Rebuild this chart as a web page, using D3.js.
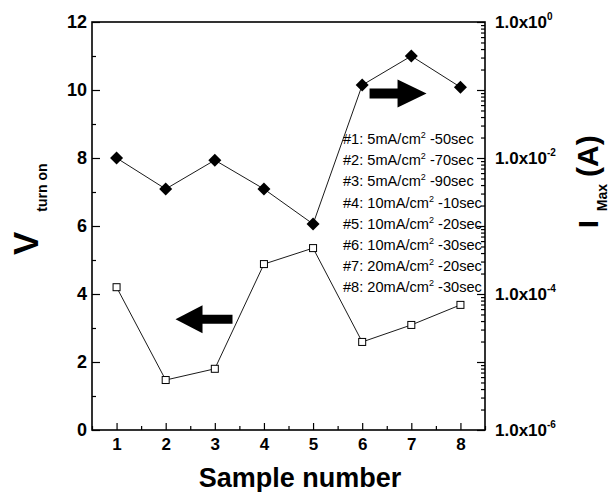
<!DOCTYPE html>
<html>
<head>
<meta charset="utf-8">
<script src="https://cdn.jsdelivr.net/npm/d3@7"></script>
<style>
  body { margin: 0; background: #fff; }
  text { font-family: "Liberation Sans", Arial, sans-serif; fill: #000; }
  .tick line { stroke: #000; stroke-width: 1.2; }
  .domain { display: none; }
</style>
</head>
<body>
<svg id="chart" width="616" height="492"></svg>
<script>
// ----------

const SAMPLES = [1, 2, 3, 4, 5, 6, 7, 8];
const V_TURN_ON = [4.2, 1.47, 1.8, 4.88, 5.35, 2.59, 3.09, 3.68];
const I_MAX = [1.0e-2, 3.5e-3, 9.3e-3, 3.5e-3, 1.07e-3, 0.118, 0.316, 0.11];

const CURRENT_DENSITY = ["5", "5", "5", "10", "10", "10", "20", "20"];
const ETCH_TIME = ["50", "70", "90", "10", "20", "30", "20", "30"];

const LEFT_TICKS = [0, 2, 4, 6, 8, 10, 12];
const LEFT_MINOR = [1, 3, 5, 7, 9, 11];
const X_MINOR = [0.5, 1.5, 2.5, 3.5, 4.5, 5.5, 6.5, 7.5, 8.5];
const RIGHT_EXPONENTS = [0, -2, -4, -6];

// ----------

const svg = d3.select("#chart");
const plotLeft = 92, plotRight = 485, plotTop = 22, plotBottom = 430;

const x = d3.scaleLinear().domain([0.5, 8.5]).range([plotLeft, plotRight]);
const yV = d3.scaleLinear().domain([0, 12]).range([plotBottom, plotTop]);
const yI = d3.scaleLog().domain([1e-6, 1]).range([plotBottom, plotTop]);

// x axis
svg.append("g")
  .attr("transform", `translate(0,${plotBottom})`)
  .call(d3.axisBottom(x).tickValues(SAMPLES).tickSize(-7).tickSizeOuter(0).tickPadding(8))
  .call(g => g.selectAll("text").attr("font-size", 17).attr("font-weight", "bold"));
svg.append("g")
  .attr("transform", `translate(0,${plotBottom})`)
  .call(d3.axisBottom(x).tickValues(X_MINOR).tickSize(-4).tickSizeOuter(0).tickFormat(""));

// left axis
svg.append("g")
  .attr("transform", `translate(${plotLeft},0)`)
  .call(d3.axisLeft(yV).tickValues(LEFT_TICKS).tickSize(-8).tickSizeOuter(0).tickPadding(5))
  .call(g => g.selectAll("text").attr("font-size", 18).attr("font-weight", "bold"));
svg.append("g")
  .attr("transform", `translate(${plotLeft},0)`)
  .call(d3.axisLeft(yV).tickValues(LEFT_MINOR).tickSize(-4).tickSizeOuter(0).tickFormat(""));

// right axis (log)
let decades = d3.range(-6, 1).map(e => Math.pow(10, e));
let minorLog = [];
decades.slice(0, -1).forEach(d => { for (let k = 2; k < 10; k++) minorLog.push(d * k); });

svg.append("g")
  .attr("transform", `translate(${plotRight},0)`)
  .call(d3.axisRight(yI).tickValues(decades).tickSize(-8).tickSizeOuter(0).tickFormat(""));
svg.append("g")
  .attr("transform", `translate(${plotRight},0)`)
  .call(d3.axisRight(yI).tickValues(minorLog).tickSize(-4).tickSizeOuter(0).tickFormat(""));

let rightLabels = svg.append("g").selectAll("text")
  .data(RIGHT_EXPONENTS)
  .enter()
  .append("text")
  .attr("x", plotRight + 10)
  .attr("y", d => yI(Math.pow(10, d)) + 6)
  .attr("font-size", 17)
  .attr("font-weight", "bold");
rightLabels.append("tspan").text("1.0x10");
rightLabels.append("tspan").attr("dy", -8).attr("font-size", 10).text(d => d);

// frame
svg.append("rect")
  .attr("x", plotLeft).attr("y", plotTop)
  .attr("width", plotRight - plotLeft).attr("height", plotBottom - plotTop)
  .attr("fill", "none").attr("stroke", "#000").attr("stroke-width", 1.6);

// lines
let lineV = d3.line().x((d, i) => x(SAMPLES[i])).y(d => yV(d));
let lineI = d3.line().x((d, i) => x(SAMPLES[i])).y(d => yI(d));

svg.append("path").attr("d", lineV(V_TURN_ON)).attr("fill", "none").attr("stroke", "#000").attr("stroke-width", 0.9);
svg.append("path").attr("d", lineI(I_MAX)).attr("fill", "none").attr("stroke", "#000").attr("stroke-width", 0.9);

// markers
svg.selectAll(".sq")
  .data(V_TURN_ON)
  .enter()
  .append("rect")
  .attr("class", "sq")
  .attr("x", (d, i) => x(SAMPLES[i]) - 3.5)
  .attr("y", d => yV(d) - 3.5)
  .attr("width", 7).attr("height", 7)
  .attr("fill", "#fff").attr("stroke", "#000").attr("stroke-width", 1);

svg.selectAll(".dia")
  .data(I_MAX)
  .enter()
  .append("path")
  .attr("class", "dia")
  .attr("transform", (d, i) => `translate(${x(SAMPLES[i])},${yI(d)})`)
  .attr("d", "M0,-6.5L6.5,0L0,6.5L-6.5,0Z")
  .attr("fill", "#000");

// arrows
function arrow(x0, x1, yc, headLen, headHalf, shaftHalf) {
  // x0 = tail, x1 = tip
  let dir = x1 > x0 ? 1 : -1;
  let xb = x1 - dir * headLen;
  return `M${x0},${yc - shaftHalf}L${xb},${yc - shaftHalf}L${xb},${yc - headHalf}L${x1},${yc}` +
    `L${xb},${yc + headHalf}L${xb},${yc + shaftHalf}L${x0},${yc + shaftHalf}Z`;
}
svg.append("path").attr("d", arrow(x(3.36), x(2.2), yV(3.26), 27, 14, 4.5)).attr("fill", "#000");
svg.append("path").attr("d", arrow(x(6.15), x(7.31), yV(9.9), 29, 14, 5)).attr("fill", "#000");

// legend text
let legend = svg.append("g").selectAll("text")
  .data(CURRENT_DENSITY)
  .enter()
  .append("text")
  .attr("x", 343)
  .attr("y", (d, i) => 144 + i * 21.2)
  .attr("font-size", 14.6);
legend.append("tspan").text((d, i) => `#${i + 1}: ${d}mA/cm`);
legend.append("tspan").attr("dy", -6).attr("font-size", 9).text("2");
legend.append("tspan").attr("dy", 6).text((d, i) => ` -${ETCH_TIME[i]}sec`);

// axis titles
let tl = svg.append("text")
  .attr("transform", "translate(38,255) rotate(-90)")
  .attr("font-weight", "bold");
tl.append("tspan").attr("font-size", 35).text("V");
tl.append("tspan").attr("font-size", 14).attr("dx", 20).attr("dy", 9).text("turn on");

let tr = svg.append("text")
  .attr("transform", "translate(598,228) rotate(-90)")
  .attr("font-weight", "bold");
tr.append("tspan").attr("font-size", 28).text("I");
tr.append("tspan").attr("font-size", 14).attr("dx", 9).attr("dy", 9).text("Max");
tr.append("tspan").attr("font-size", 30).attr("dx", 7).attr("dy", -9).text("(A)");

svg.append("text")
  .attr("x", 300).attr("y", 487)
  .attr("text-anchor", "middle")
  .attr("font-size", 27)
  .attr("font-weight", "bold")
  .text("Sample number");
</script>
</body>
</html>
